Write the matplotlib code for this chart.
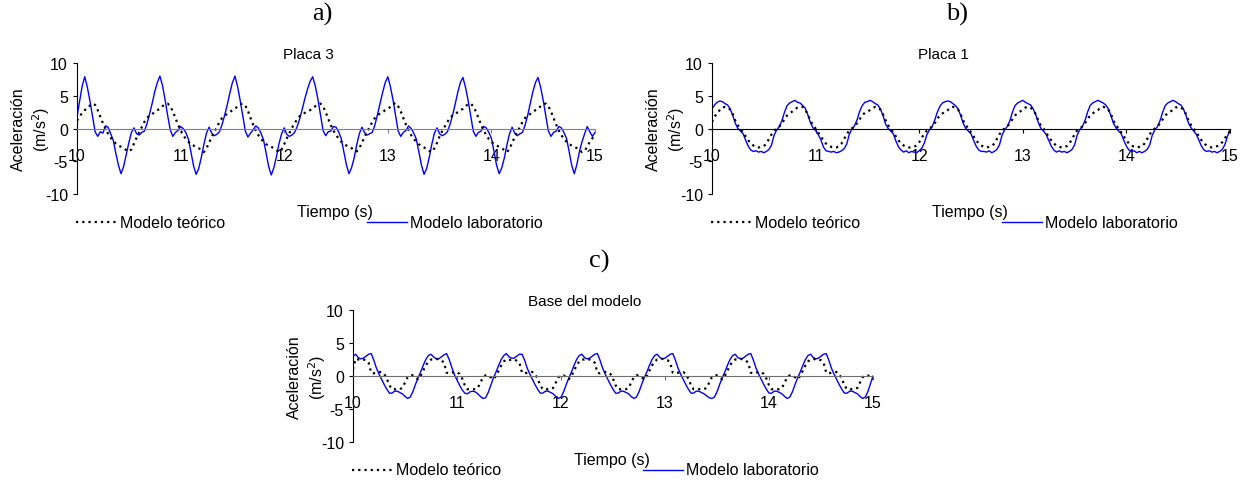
import matplotlib.pyplot as plt
import numpy as np
from matplotlib.lines import Line2D

plt.rcParams['font.family'] = ['Liberation Sans', 'DejaVu Sans']
plt.rcParams['axes.unicode_minus'] = False

# time axis, one sample every 0.025 s
t = np.linspace(10, 15, 201)

# Placa 3 - acceleration (m/s2)
placa3_lab = [
    1.8, 4.2, 6.5,
    7.9, 6.3, 4.2, 1.8, -0.5, -1.2, -0.5, -0.7, 0.4, 0.2, -0.8, -1.8, -3.8, -5.6, -6.9, -5.8, -4.0, -2.2, -0.6, 0.1, -0.8, -1.0, -0.6, -0.4, 0.7, 2.2, 3.8, 5.6, 7.0,
    8.0, 6.6, 4.4, 2.0, -0.2, -1.2, -0.6, -0.3, 0.3, 0.0, -0.6, -1.6, -3.6, -5.7, -7.0, -6.1, -4.4, -2.4, -0.7, 0.2, -0.7, -1.1, -0.9, -0.5, 0.6, 2.0, 3.6, 5.4, 7.0,
    8.0, 6.4, 4.3, 1.9, -0.4, -1.3, -0.7, -0.2, 0.4, 0.1, -0.7, -1.7, -3.7, -5.8, -7.1, -6.0, -4.3, -2.3, -0.8, 0.1, -0.9, -1.2, -1.0, -0.6, 0.3, 1.5, 3.0, 4.6, 6.0, 7.2,
    7.9, 6.5, 4.5, 2.1, -0.3, -1.1, -0.5, -0.4, 0.3, 0.2, -0.5, -1.5, -3.5, -5.5, -6.9, -6.0, -4.5, -2.5, -0.8, 0.2, -0.6, -1.0, -0.8, -0.6, 0.5, 2.1, 3.8, 5.5, 7.0,
    7.9, 6.4, 4.4, 2.0, -0.4, -1.2, -0.6, -0.3, 0.4, 0.0, -0.7, -1.6, -3.6, -5.6, -7.0, -6.1, -4.4, -2.4, -0.7, 0.1, -0.8, -1.1, -0.9, -0.5, 0.6, 2.0, 3.7, 5.5, 7.0,
    7.8, 6.3, 4.3, 1.9, -0.4, -1.2, -0.6, -0.4, 0.3, 0.1, -0.6, -1.5, -3.5, -5.6, -6.9, -6.0, -4.5, -2.5, -0.8, 0.2, -0.7, -1.1, -0.8, -0.6, 0.5, 2.0, 3.8, 5.6, 7.0,
    7.8, 6.3, 4.3, 1.9, -0.4, -1.2, -0.6, -0.4, 0.3, 0.1, -0.6, -1.5, -3.5, -5.6, -6.9, -5.5, -3.5, -2.0, -0.8, 0.3, -0.5, -1.2, -0.6,
]
placa3_teo = [
    1.2, 1.8, 2.4,
    2.8, 3.2, 3.5, 3.8, 3.6, 2.8, 1.8, 0.8, 0.0, -0.8, -1.4, -1.9, -2.3, -2.6, -2.8, -3.0, -3.3, -3.5, -3.2, -2.3, -1.4, -0.6, 0.2, 1.0, 1.6, 2.0, 2.2, 2.5, 2.8,
    3.0, 3.4, 3.7, 3.8, 3.4, 2.6, 1.6, 0.6, -0.3, -1.0, -1.6, -2.0, -2.4, -2.6, -2.8, -3.0, -3.3, -3.6, -3.0, -2.2, -1.3, -0.5, 0.2, 1.0, 1.6, 2.0, 2.2, 2.5, 2.8,
    3.0, 3.4, 3.7, 3.8, 3.5, 2.7, 1.6, 0.6, -0.3, -1.0, -1.6, -2.0, -2.4, -2.6, -2.8, -3.0, -3.3, -3.6, -3.2, -2.4, -1.5, -0.7, 0.1, 0.8, 1.4, 1.9, 2.1, 2.4, 2.6, 2.8,
    3.1, 3.4, 3.6, 3.8, 3.4, 2.5, 1.5, 0.5, -0.3, -1.0, -1.5, -2.0, -2.3, -2.6, -2.8, -3.0, -3.3, -3.5, -3.0, -2.2, -1.3, -0.5, 0.2, 1.0, 1.6, 2.0, 2.3, 2.5, 2.8,
    3.0, 3.3, 3.7, 3.9, 3.4, 2.6, 1.6, 0.6, -0.2, -1.0, -1.6, -2.0, -2.4, -2.7, -2.9, -3.1, -3.4, -3.6, -3.0, -2.2, -1.2, -0.4, 0.3, 1.0, 1.6, 2.0, 2.2, 2.5, 2.8,
    3.0, 3.4, 3.7, 3.8, 3.4, 2.6, 1.6, 0.6, -0.3, -1.0, -1.6, -2.0, -2.4, -2.6, -2.8, -3.0, -3.3, -3.6, -3.1, -2.2, -1.3, -0.5, 0.2, 1.0, 1.6, 2.0, 2.2, 2.5, 2.8,
    3.0, 3.4, 3.7, 3.8, 3.4, 2.6, 1.6, 0.6, -0.3, -1.0, -1.6, -2.0, -2.4, -2.6, -2.8, -3.0, -3.3, -3.6, -3.4, -2.8, -2.0, -1.5, -0.8,
]

# Placa 1
placa1_lab = [
    3.0, 3.6, 4.0,
    4.2, 4.1, 3.8, 3.6, 3.0, 2.0, 0.8, 0.0, -0.4, -0.8, -1.8, -2.7, -3.3, -3.5, -3.4, -3.6, -3.5, -3.7, -3.5, -3.2, -2.5, -1.0, -0.2, 0.3, 1.2, 2.5, 3.5, 3.9, 4.1,
    4.3, 4.0, 3.9, 3.5, 3.1, 2.1, 0.9, 0.1, -0.3, -0.9, -1.7, -2.8, -3.4, -3.5, -3.6, -3.5, -3.7, -3.6, -3.4, -3.1, -2.4, -0.9, -0.1, 0.4, 1.3, 2.6, 3.5, 4.0, 4.1,
    4.3, 4.1, 3.8, 3.6, 3.0, 2.0, 0.7, 0.0, -0.4, -0.8, -1.9, -2.8, -3.3, -3.6, -3.4, -3.7, -3.5, -3.6, -3.7, -3.4, -3.0, -2.2, -0.9, -0.2, 0.3, 1.3, 2.5, 3.4, 3.9, 4.1,
    4.2, 4.1, 3.8, 3.5, 3.0, 2.0, 0.8, 0.0, -0.4, -0.8, -1.8, -2.7, -3.3, -3.5, -3.5, -3.6, -3.4, -3.7, -3.5, -3.2, -2.5, -1.0, -0.2, 0.3, 1.2, 2.5, 3.5, 3.9, 4.1,
    4.3, 4.0, 3.8, 3.6, 3.0, 2.1, 0.9, 0.0, -0.4, -0.9, -1.8, -2.7, -3.3, -3.6, -3.4, -3.6, -3.5, -3.7, -3.5, -3.2, -2.5, -1.0, -0.2, 0.3, 1.2, 2.5, 3.5, 3.9, 4.1,
    4.3, 4.1, 3.9, 3.6, 3.0, 2.0, 0.8, 0.1, -0.4, -0.8, -1.8, -2.7, -3.3, -3.5, -3.4, -3.7, -3.5, -3.7, -3.5, -3.2, -2.5, -1.0, -0.2, 0.3, 1.2, 2.5, 3.5, 3.9, 4.1,
    4.3, 4.1, 3.8, 3.6, 3.0, 2.0, 0.8, 0.1, -0.4, -0.9, -1.8, -2.7, -3.3, -3.5, -3.4, -3.6, -3.5, -3.7, -3.5, -3.2, -2.5, -1.2, -0.3,
]
placa1_teo = [
    1.0, 1.8, 2.4,
    2.8, 3.2, 3.3, 3.2, 2.9, 2.2, 1.2, 0.5, 0.0, -0.6, -1.2, -1.8, -2.3, -2.6, -2.8, -2.9, -2.8, -2.7, -2.3, -1.6, -0.9, -0.3, 0.0, 0.3, 0.8, 1.4, 2.0, 2.3, 2.6,
    2.9, 3.2, 3.3, 3.3, 2.9, 2.1, 1.2, 0.5, 0.0, -0.6, -1.2, -1.8, -2.3, -2.6, -2.8, -2.9, -2.9, -2.7, -2.3, -1.6, -0.9, -0.3, 0.0, 0.3, 0.8, 1.4, 2.0, 2.4, 2.6,
    2.8, 3.1, 3.3, 3.2, 2.9, 2.2, 1.3, 0.5, 0.0, -0.6, -1.2, -1.8, -2.3, -2.6, -2.8, -2.9, -2.9, -2.8, -2.6, -2.1, -1.4, -0.8, -0.3, 0.0, 0.3, 0.8, 1.5, 2.0, 2.3, 2.6,
    2.8, 3.2, 3.3, 3.2, 2.9, 2.2, 1.2, 0.5, 0.0, -0.6, -1.2, -1.8, -2.3, -2.6, -2.8, -2.9, -2.8, -2.7, -2.3, -1.6, -0.9, -0.3, 0.0, 0.3, 0.8, 1.4, 2.0, 2.3, 2.6,
    2.9, 3.2, 3.3, 3.2, 2.8, 2.2, 1.2, 0.4, 0.0, -0.6, -1.3, -1.8, -2.3, -2.6, -2.8, -2.9, -2.8, -2.7, -2.3, -1.6, -0.9, -0.3, 0.0, 0.3, 0.8, 1.4, 2.0, 2.3, 2.6,
    2.8, 3.2, 3.3, 3.2, 2.9, 2.2, 1.2, 0.5, 0.0, -0.6, -1.2, -1.8, -2.3, -2.6, -2.8, -2.9, -2.8, -2.7, -2.3, -1.6, -0.9, -0.3, 0.0, 0.3, 0.8, 1.4, 2.0, 2.3, 2.6,
    2.8, 3.2, 3.3, 3.2, 2.9, 2.2, 1.2, 0.5, 0.0, -0.6, -1.2, -1.8, -2.3, -2.6, -2.8, -2.9, -2.8, -2.7, -2.5, -2.1, -1.5, -0.9, -0.4,
]

# Base del modelo
base_lab = [
    3.0,
    3.3, 2.8, 2.6, 2.7, 3.0, 3.3, 3.4, 2.4, 1.2, 0.3, -0.5, -1.3, -2.0, -2.6, -2.6, -2.3, -2.3, -2.5, -2.7, -3.1, -3.4, -3.2, -2.4, -1.3, -0.3, 0.6, 1.6, 2.5, 3.1,
    3.3, 2.9, 2.6, 2.6, 2.9, 3.2, 3.4, 2.5, 1.3, 0.2, -0.6, -1.4, -2.1, -2.6, -2.7, -2.4, -2.3, -2.4, -2.7, -3.1, -3.4, -3.3, -2.5, -1.4, -0.3, 0.6, 1.6, 2.5, 3.1,
    3.4, 2.9, 2.7, 2.7, 3.0, 3.3, 3.3, 2.4, 1.2, 0.3, -0.5, -1.3, -2.0, -2.6, -2.6, -2.3, -2.3, -2.5, -2.7, -3.1, -3.4, -3.2, -2.4, -1.3, -0.3, 0.6, 1.6, 2.5, 3.1,
    3.3, 2.8, 2.6, 2.7, 3.0, 3.3, 3.4, 2.4, 1.2, 0.3, -0.5, -1.3, -2.0, -2.6, -2.6, -2.3, -2.3, -2.5, -2.7, -3.1, -3.4, -3.2, -2.4, -1.3, -0.3, 0.6, 1.6, 2.5, 3.1,
    3.3, 2.8, 2.6, 2.7, 3.0, 3.3, 3.4, 2.4, 1.2, 0.3, -0.5, -1.3, -2.0, -2.6, -2.6, -2.3, -2.3, -2.5, -2.7, -3.0, -3.3, -3.4, -3.2, -2.4, -1.3, -0.3, 0.6, 1.6, 2.5, 3.1,
    3.3, 2.8, 2.6, 2.7, 3.0, 3.3, 3.4, 2.4, 1.2, 0.3, -0.5, -1.3, -2.0, -2.6, -2.6, -2.3, -2.3, -2.5, -2.7, -3.1, -3.4, -3.2, -2.4, -1.3, -0.3, 0.6, 1.6, 2.5, 3.1,
    3.3, 2.8, 2.6, 2.7, 3.0, 3.3, 3.4, 2.4, 1.2, 0.3, -0.5, -1.3, -2.0, -2.6, -2.6, -2.3, -2.3, -2.5, -2.7, -3.1, -3.4, -3.2, -2.4, -1.2, 0.0,
]
base_teo = [
    1.0,
    2.6, 2.5, 2.6, 2.5, 2.4, 2.0, 0.5, 0.4, 0.5, 0.6, 0.6, 0.3, -0.4, -1.4, -2.0, -2.0, -2.0, -2.0, -1.8, -1.0, -0.2, 0.1, 0.1, -0.2, -0.5, 0.0, 0.8, 1.6, 2.2,
    2.5, 2.5, 2.6, 2.5, 2.4, 2.0, 0.5, 0.4, 0.5, 0.6, 0.6, 0.3, -0.4, -1.4, -2.0, -2.0, -2.0, -2.0, -1.8, -1.0, -0.2, 0.1, 0.1, -0.2, -0.5, 0.0, 0.8, 1.6, 2.2,
    2.5, 2.4, 2.5, 2.5, 2.3, 2.0, 0.5, 0.4, 0.5, 0.6, 0.6, 0.3, -0.4, -1.4, -2.0, -2.0, -2.0, -2.0, -1.8, -1.0, -0.2, 0.1, 0.1, -0.2, -0.5, 0.0, 0.8, 1.6, 2.2,
    2.5, 2.5, 2.6, 2.5, 2.4, 2.0, 0.5, 0.4, 0.5, 0.6, 0.6, 0.3, -0.4, -1.4, -2.0, -2.0, -2.0, -2.0, -1.8, -1.0, -0.2, 0.1, 0.1, -0.2, -0.5, 0.0, 0.8, 1.6, 2.2,
    2.5, 2.5, 2.6, 2.5, 2.4, 2.0, 0.5, 0.4, 0.5, 0.6, 0.6, 0.3, -0.4, -1.4, -2.0, -2.0, -2.0, -2.0, -2.0, -1.8, -1.0, -0.2, 0.1, 0.1, -0.2, -0.5, 0.0, 0.8, 1.6, 2.2,
    2.5, 2.5, 2.6, 2.5, 2.4, 2.0, 0.5, 0.4, 0.5, 0.6, 0.6, 0.3, -0.4, -1.4, -2.0, -2.0, -2.0, -2.0, -1.8, -1.0, -0.2, 0.1, 0.1, -0.2, -0.5, 0.0, 0.8, 1.6, 2.2,
    2.5, 2.5, 2.6, 2.5, 2.4, 2.0, 0.5, 0.4, 0.5, 0.6, 0.6, 0.3, -0.4, -1.4, -2.0, -2.0, -2.0, -2.0, -1.8, -1.0, -0.2, 0.1, 0.1, -0.2, -0.5,
]

x_ticks = [10, 11, 12, 13, 14, 15]
y_ticks = [-10, -5, 0, 5, 10]

W, H = 1251, 481
fig = plt.figure(figsize=(W / 100, H / 100), dpi=100)


def fx(x):
    return x / W


def fy(y):
    return 1 - y / H


blue = '#0000ff'
dots = (0, (1, 1.8))

# (letter, title, lab, teo, left, right, top, bottom, zero line colour)
panels = [
    ('a)', 'Placa 3', placa3_lab, placa3_teo, 77, 595, 64, 195, '#808080'),
    ('b)', 'Placa 1', placa1_lab, placa1_teo, 712, 1230, 64, 195, '#000000'),
    ('c)', 'Base del modelo', base_lab, base_teo, 353, 873, 311, 443, '#707070'),
]

for letter, title, lab, teo, x0, x1, y0, y1, zcol in panels:
    ax = fig.add_axes([fx(x0), fy(y1), (x1 - x0) / W, (y1 - y0) / H])
    ax.plot(t, lab, color=blue, lw=1.0)
    ax.plot(t, teo, color='black', lw=1.6, linestyle=dots)
    ax.set_xlim(10, 15)
    ax.set_ylim(-10, 10)
    ax.set_xticks(x_ticks)
    ax.set_yticks(y_ticks)
    ax.spines['top'].set_visible(False)
    ax.spines['right'].set_visible(False)
    ax.spines['bottom'].set_position(('data', 0))
    ax.spines['bottom'].set_color(zcol)
    ax.spines['left'].set_color('black')
    ax.tick_params(axis='x', direction='out', length=3, width=0.8, color=zcol,
                   pad=11, labelsize=11.5)
    ax.tick_params(axis='y', direction='out', length=3, width=0.8,
                   pad=3.5, labelsize=11.5)
    ax.patch.set_alpha(0)

    xm = (x0 + x1) / 2
    ym = (y0 + y1) / 2
    # titles and axis labels
    fig.text(fx(xm - 28), fy(y0 - 9), title, ha='center', va='center', fontsize=11)
    fig.text(fx(x0 - 59), fy(ym), 'Aceleración', rotation=90,
             ha='center', va='center', fontsize=11.5)
    fig.text(fx(x0 - 36), fy(ym), '(m/s$^2$)', rotation=90,
             ha='center', va='center', fontsize=11.5)
    fig.text(fx(xm - 1), fy(y1 + 17), 'Tiempo (s)', ha='center', va='center', fontsize=11.5)

    # legend row under the axis
    ly = y1 + 28
    fig.add_artist(Line2D([fx(x0 - 1), fx(x0 + 40)], [fy(ly), fy(ly)],
                          color='black', lw=1.6, linestyle=dots))
    fig.text(fx(x0 + 43), fy(ly), 'Modelo teórico', ha='left', va='center', fontsize=11.5)
    fig.add_artist(Line2D([fx(x0 + 290), fx(x0 + 330)], [fy(ly), fy(ly)],
                          color=blue, lw=1.0))
    fig.text(fx(x0 + 333), fy(ly), 'Modelo laboratorio', ha='left', va='center', fontsize=11.5)

    # panel letter
    fig.text(fx(xm - 14), fy(y0 - 50), letter, ha='center', va='center',
             fontsize=19, family='Liberation Serif')

fig.savefig('out.png', dpi=100)
